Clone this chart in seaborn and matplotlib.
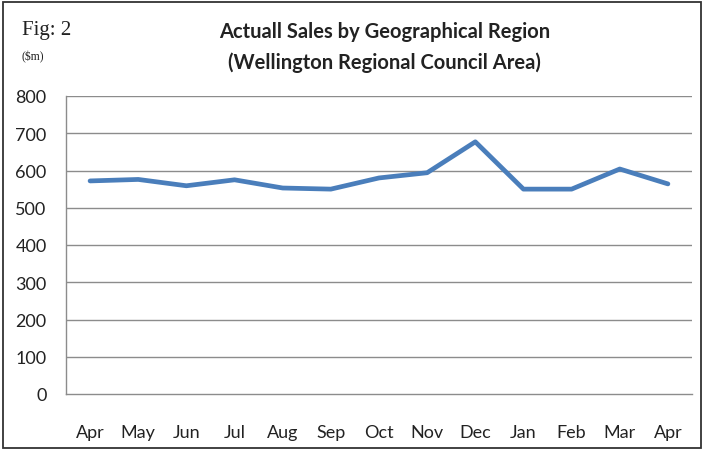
import matplotlib
matplotlib.use("Agg")
import matplotlib.pyplot as plt
from matplotlib.patches import Rectangle
import seaborn as sns
import pandas as pd

months = ["Apr", "May", "Jun", "Jul", "Aug", "Sep", "Oct", "Nov", "Dec", "Jan", "Feb", "Mar", "Apr"]
sales = [572, 576, 559, 575, 553, 550, 580, 594, 677, 550, 550, 604, 564]
yticks = [0, 100, 200, 300, 400, 500, 600, 700, 800]

sns.set_theme(style="white")
plt.rcParams['font.family'] = ['Lato', 'DejaVu Sans']

df = pd.DataFrame({"pos": list(range(len(months))), "sales": sales})

fig = plt.figure(figsize=(7.05, 4.52), dpi=100)
ax = fig.add_axes([66/705, 1 - 395/452, (692-66)/705, (395-97)/452])

sns.lineplot(data=df, x="pos", y="sales", ax=ax, color="#4A7EBB", linewidth=3.4)

ax.set_xlim(-0.5, len(months) - 0.5)
ax.set_ylim(0, 800)
ax.set_yticks(yticks)
ax.set_yticklabels([str(v) for v in yticks])
ax.set_xticks(list(range(len(months))))
ax.set_xticklabels(months)
ax.set_xlabel("")
ax.set_ylabel("")

for y in yticks[1:]:
    ax.axhline(y, color="#8C8C8C", linewidth=1.0, zorder=0)

for s in ["top", "right"]:
    ax.spines[s].set_visible(False)
ax.spines["left"].set_color("#8C8C8C")
ax.spines["bottom"].set_color("#8C8C8C")
ax.spines["left"].set_linewidth(1.0)
ax.spines["bottom"].set_linewidth(1.0)

ax.tick_params(axis="y", length=0, pad=14, labelsize=13, labelcolor="#222222")
ax.tick_params(axis="x", length=0, pad=21.5, labelsize=13, labelcolor="#222222")

fig.text(0.545, 1 - 32/452, "Actuall Sales by Geographical Region", ha="center", va="center",
         fontsize=14.5, fontweight="bold", color="#222222")
fig.text(0.545, 1 - 63/452, "(Wellington Regional Council Area)", ha="center", va="center",
         fontsize=14.5, fontweight="bold", color="#222222")

fig.text(22/705, 1 - 31/452, "Fig: 2", ha="left", va="center", fontsize=15,
         family=["Liberation Serif", "DejaVu Serif"], color="#222222")
fig.text(22/705, 1 - 57/452, "($m)", ha="left", va="center", fontsize=8.5,
         family=["Liberation Serif", "DejaVu Serif"], color="#222222")

fig.add_artist(Rectangle((3/705, 3/452), 698/705, 446/452, transform=fig.transFigure,
                         fill=False, edgecolor="#333333", linewidth=1.3))

fig.savefig("out.png", dpi=100)
